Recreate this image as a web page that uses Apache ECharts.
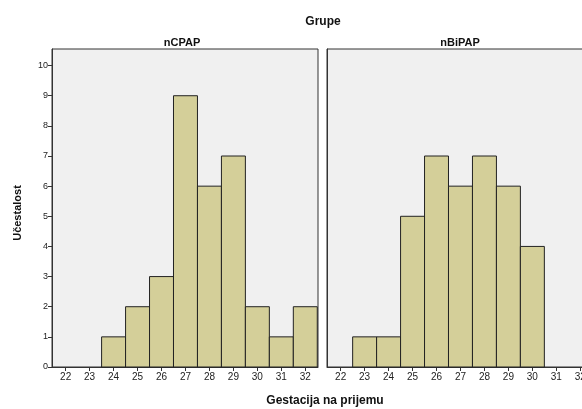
<!DOCTYPE html>
<html><head><meta charset="utf-8">
<script src="https://cdn.jsdelivr.net/npm/echarts@6/dist/echarts.min.js"></script>
<style>html,body{margin:0;padding:0;background:#fff}#c{width:582px;height:409px}</style>
</head><body><div id="c"></div>
<script>
const gestation = [22, 23, 24, 25, 26, 27, 28, 29, 30, 31, 32];
const nCPAP = [0, 0, 1, 2, 3, 9, 6, 7, 2, 1, 2];
const nBiPAP = [0, 1, 1, 5, 7, 6, 7, 6, 4, 0, 0];
const yTicks = [0, 1, 2, 3, 4, 5, 6, 7, 8, 9, 10];
const panelNames = ['nCPAP', 'nBiPAP'];

const chart = echarts.init(document.getElementById('c'));
const font = 'Liberation Sans, Arial, sans-serif';

function renderBar(params, api) {
  const x = api.value(0), y = api.value(1);
  if (!y) return null;
  const p0 = api.coord([x - 0.5, y]);
  const p1 = api.coord([x + 0.5, 0]);
  return {
    type: 'rect',
    shape: { x: p0[0], y: p0[1], width: p1[0] - p0[0], height: p1[1] - p0[1] },
    style: { fill: '#d4cf99', stroke: '#222', lineWidth: 1 }
  };
}

const grids = [
  { left: 52, top: 49, width: 266, height: 318 },
  { left: 327, top: 49, width: 266, height: 318 }
].map(g => Object.assign(g, { show: true, outerBoundsMode: 'none', containLabel: false, backgroundColor: '#f0f0f0', borderColor: '#333', borderWidth: 1 }));

const xAxes = [0, 1].map(i => ({
  type: 'value', gridIndex: i, min: 21.43, max: 32.53,
  axisLine: { show: true, lineStyle: { color: '#333' } },
  axisTick: { show: true, length: 4, customValues: gestation, lineStyle: { color: '#333' } },
  axisLabel: { customValues: gestation, fontSize: 10, color: '#222', fontFamily: font, margin: 5 },
  splitLine: { show: false }
}));
const yAxes = [0, 1].map(i => ({
  type: 'value', gridIndex: i, min: 0, max: 10.55,
  axisLine: { show: true, lineStyle: { color: '#333' } },
  axisTick: { show: i === 0, length: 4, customValues: yTicks, lineStyle: { color: '#333' } },
  axisLabel: { show: i === 0, customValues: yTicks, fontSize: 9, color: '#222', fontFamily: font, margin: 4 },
  splitLine: { show: false }
}));

const series = [nCPAP, nBiPAP].map((vals, i) => ({
  type: 'custom', xAxisIndex: i, yAxisIndex: i,
  renderItem: renderBar,
  data: gestation.map((g, k) => [g, vals[k]]),
  silent: true
}));

const ts = { fontSize: 12, fontWeight: 'bold', fontFamily: font, color: '#111' };
const ts2 = { fontSize: 11, fontWeight: 'bold', fontFamily: font, color: '#111' };
chart.setOption({
  animation: false,
  grid: grids, xAxis: xAxes, yAxis: yAxes, series: series,
  title: [
    { text: 'Grupe', left: 323, top: 16, padding: 0, textAlign: 'center', textStyle: ts },
    { text: panelNames[0], left: 182, top: 37, padding: 0, textAlign: 'center', textStyle: ts2 },
    { text: panelNames[1], left: 460, top: 37, padding: 0, textAlign: 'center', textStyle: ts2 },
    { text: 'Gestacija na prijemu', left: 325, top: 395, padding: 0, textAlign: 'center', textStyle: ts }
  ],
  graphic: [
    { type: 'text', x: 18, y: 213, rotation: Math.PI / 2, style: { text: 'Učestalost', font: 'bold 11px ' + font, fill: '#111', align: 'center', verticalAlign: 'middle' } }
  ]
});
</script></body></html>
